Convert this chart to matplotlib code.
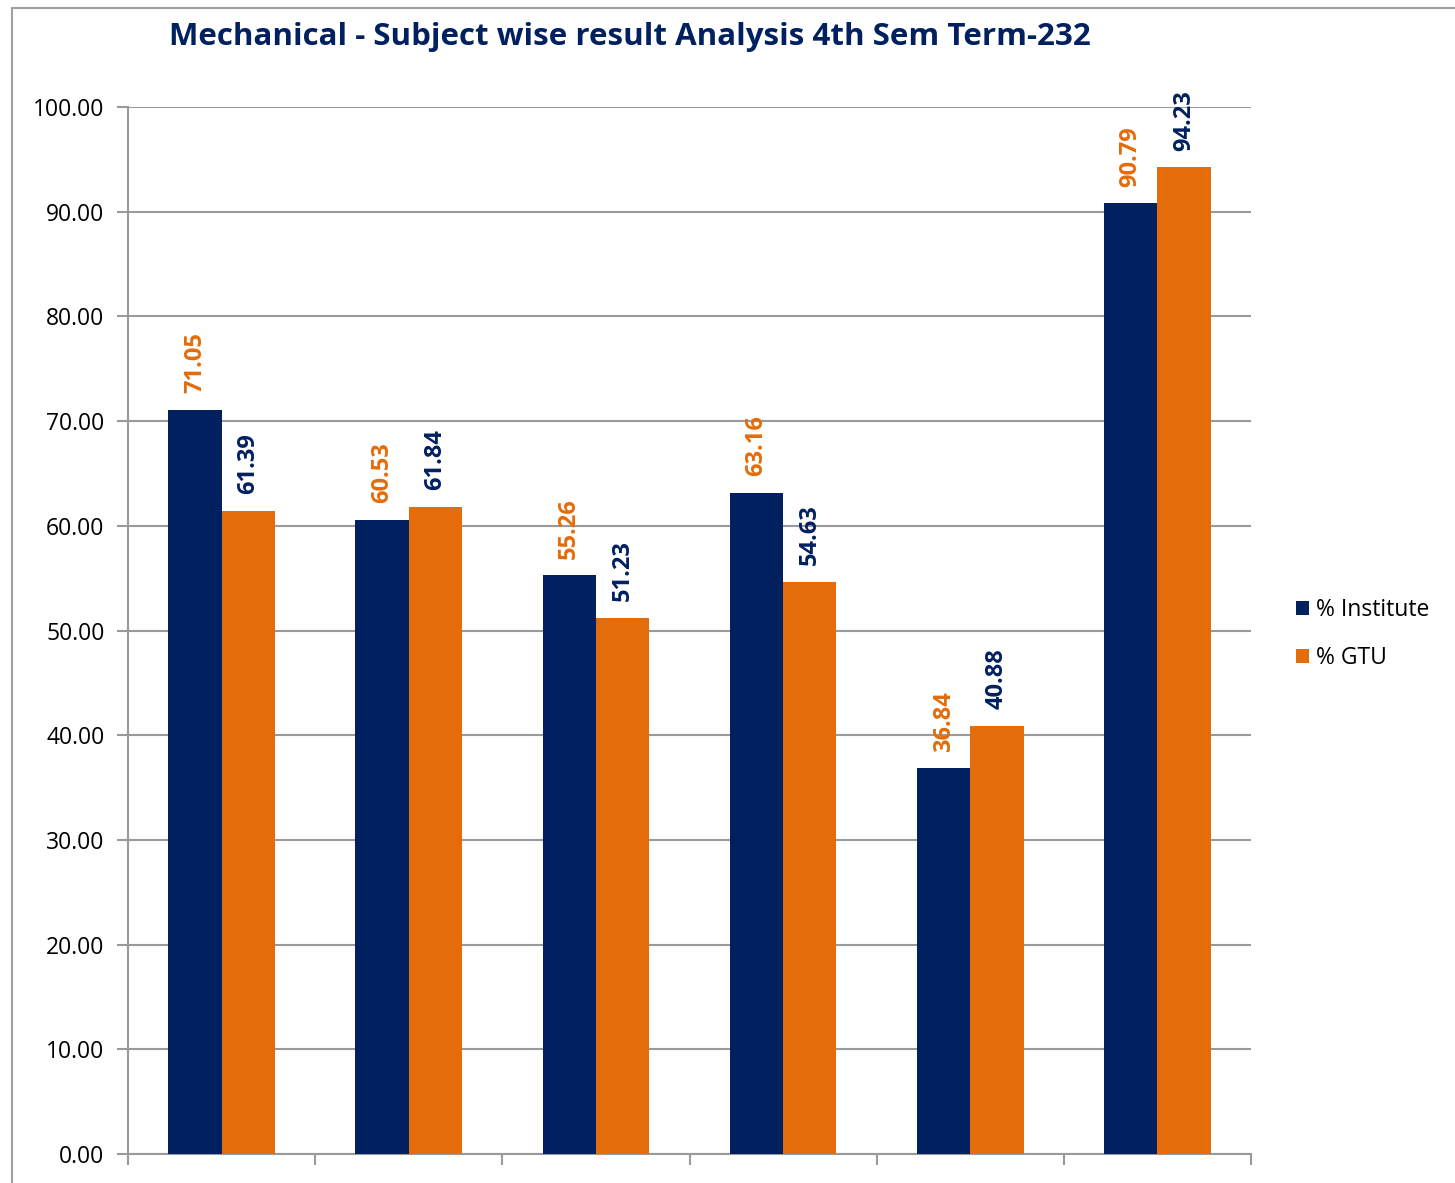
import matplotlib.pyplot as plt
from matplotlib.patches import Rectangle
import numpy as np

# Data
subjects = ["S1", "S2", "S3", "S4", "S5", "S6"]
institute = [71.05, 60.53, 55.26, 63.16, 36.84, 90.79]
gtu = [61.39, 61.84, 51.23, 54.63, 40.88, 94.23]

navy = '#002060'
orange = '#E46C0A'
grid_col = '#9A9A9A'

plt.rcParams['font.family'] = ['Open Sans', 'DejaVu Sans']

fig = plt.figure(figsize=(14.55, 11.83), dpi=100)
ax = fig.add_axes([128 / 1455, 1 - 1154 / 1183, (1251 - 128) / 1455, (1154 - 107) / 1183])

x = np.arange(len(subjects))
w = 0.285
ax.bar(x - w / 2, institute, w, color=navy, label='% Institute', zorder=3)
ax.bar(x + w / 2, gtu, w, color=orange, label='% GTU', zorder=3)

# value labels (colours swapped like the original)
for xi, v in zip(x, institute):
    ax.text(xi - w / 2, v + 1.6, f'{v:.2f}', rotation=90, ha='center', va='bottom',
            color=orange, fontsize=17, fontweight='bold')
for xi, v in zip(x, gtu):
    ax.text(xi + w / 2, v + 1.6, f'{v:.2f}', rotation=90, ha='center', va='bottom',
            color=navy, fontsize=17, fontweight='bold')

ax.set_xlim(-0.5, len(subjects) - 0.5)
ax.set_ylim(0, 100)
ax.set_yticks(np.arange(0, 101, 10))
ax.set_yticklabels([f'{t:.2f}' for t in range(0, 101, 10)], fontsize=16.5)
ax.set_xticks(np.arange(-0.5, len(subjects), 1))
ax.set_xticklabels([])
ax.yaxis.grid(True, color=grid_col, linewidth=1.5, zorder=0)
ax.tick_params(axis='both', color=grid_col, width=1.5, length=8, pad=9)
for s in ['top', 'right']:
    ax.spines[s].set_visible(False)
for s in ['left', 'bottom']:
    ax.spines[s].set_color(grid_col)
    ax.spines[s].set_linewidth(1.5)

fig.text(630 / 1455, 1 - 37 / 1183, 'Mechanical - Subject wise result Analysis 4th Sem Term-232',
         ha='center', va='center', fontsize=22.5, fontweight='bold', color=navy)

fig.legend(loc='center left', bbox_to_anchor=(1275 / 1455, 1 - 634 / 1183), frameon=False,
           fontsize=16.5, handlelength=0.6, handleheight=0.6, handletextpad=0.3,
           labelspacing=1.05)

# outer chart border
fig.patches.append(Rectangle((12 / 1455, -0.01), 1.1, 1 - 8 / 1183 + 0.01, transform=fig.transFigure,
                             fill=False, edgecolor='#A0A0A0', linewidth=1.5))

plt.savefig('out.png', dpi=100)
